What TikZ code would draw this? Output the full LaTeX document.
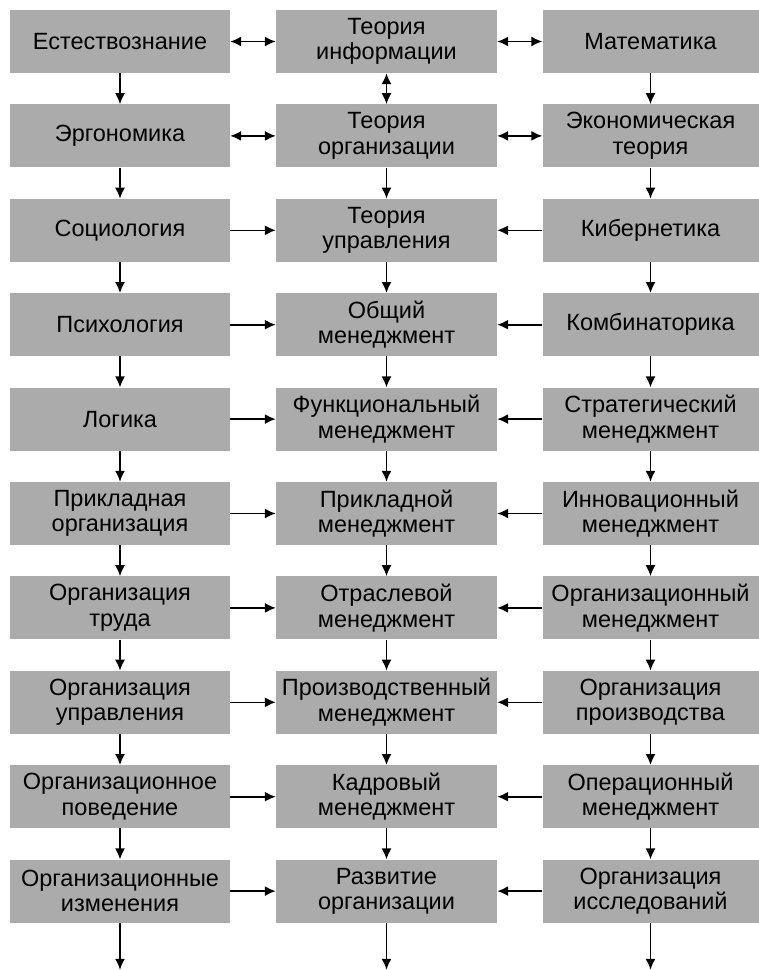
\documentclass[tikz,border=0pt]{standalone}
\usepackage{fontspec}
\setmainfont{Liberation Sans}
\usetikzlibrary{positioning, arrows.meta}

\begin{document}
\begin{tikzpicture}[x=1pt, y=-1pt,
    box/.style={fill=black!33, minimum height=63pt, inner sep=1pt,
      align=center, font=\fontsize{23.5}{25.5}\selectfont},
    lbox/.style={box, minimum width=220pt},
    mbox/.style={box, minimum width=221pt},
    rbox/.style={box, minimum width=216pt},
    >={Latex[length=11pt,width=10pt]}, link/.style={->, line width=1.6pt}]
  \useasboundingbox (0,0) rectangle (759,970);

  % left column
  \node[lbox] (l1) at (120,41.5) {Естествознание};
  \node[lbox, below=31pt of l1] (l2) {Эргономика};
  \node[lbox, below=31pt of l2] (l3) {Социология};
  \node[lbox, below=31pt of l3] (l4) {Психология};
  \node[lbox, below=31pt of l4] (l5) {Логика};
  \node[lbox, below=31pt of l5] (l6) {Прикладная\\организация};
  \node[lbox, below=31pt of l6] (l7) {Организация\\труда};
  \node[lbox, below=31pt of l7] (l8) {Организация\\управления};
  \node[lbox, below=31pt of l8] (l9) {Организационное\\поведение};
  \node[lbox, below=31pt of l9] (l10) {Организационные\\изменения};

  % middle column
  \node[mbox] (m1) at (386.5,41.5) {Теория\\информации};
  \node[mbox, below=31pt of m1] (m2) {Теория\\организации};
  \node[mbox, below=31pt of m2] (m3) {Теория\\управления};
  \node[mbox, below=31pt of m3] (m4) {Общий\\менеджмент};
  \node[mbox, below=31pt of m4] (m5) {Функциональный\\менеджмент};
  \node[mbox, below=31pt of m5] (m6) {Прикладной\\менеджмент};
  \node[mbox, below=31pt of m6] (m7) {Отраслевой\\менеджмент};
  \node[mbox, below=31pt of m7] (m8) {Производственный\\менеджмент};
  \node[mbox, below=31pt of m8] (m9) {Кадровый\\менеджмент};
  \node[mbox, below=31pt of m9] (m10) {Развитие\\организации};

  % right column
  \node[rbox] (r1) at (650.5,41.5) {Математика};
  \node[rbox, below=31pt of r1] (r2) {Экономическая\\теория};
  \node[rbox, below=31pt of r2] (r3) {Кибернетика};
  \node[rbox, below=31pt of r3] (r4) {Комбинаторика};
  \node[rbox, below=31pt of r4] (r5) {Стратегический\\менеджмент};
  \node[rbox, below=31pt of r5] (r6) {Инновационный\\менеджмент};
  \node[rbox, below=31pt of r6] (r7) {Организационный\\менеджмент};
  \node[rbox, below=31pt of r7] (r8) {Организация\\производства};
  \node[rbox, below=31pt of r8] (r9) {Операционный\\менеджмент};
  \node[rbox, below=31pt of r9] (r10) {Организация\\исследований};

  \coordinate[below=47pt of l10.south] (lend);
  \coordinate[below=47pt of m10.south] (mend);
  \coordinate[below=47pt of r10.south] (rend);

  \draw[link, <->] (l1) -- (m1);
  \draw[link, <->] (m1) -- (r1);
  \draw[link, <->] (l2) -- (m2);
  \draw[link, <->] (m2) -- (r2);
  \draw[link, <->] (m1) -- (m2);
  \foreach \i in {3,...,10} {
    \draw[link] (l\i) -- (m\i);
    \draw[link] (r\i) -- (m\i);
  }
  \foreach \i/\j in {1/2,2/3,3/4,4/5,5/6,6/7,7/8,8/9,9/10} {
    \draw[link] (l\i) -- (l\j);
    \draw[link] (r\i) -- (r\j);
  }
  \foreach \i/\j in {2/3,3/4,4/5,5/6,6/7,7/8,8/9,9/10}
    \draw[link] (m\i) -- (m\j);
  \draw[link] (l10) -- (lend);
  \draw[link] (m10) -- (mend);
  \draw[link] (r10) -- (rend);
\end{tikzpicture}
\end{document}
